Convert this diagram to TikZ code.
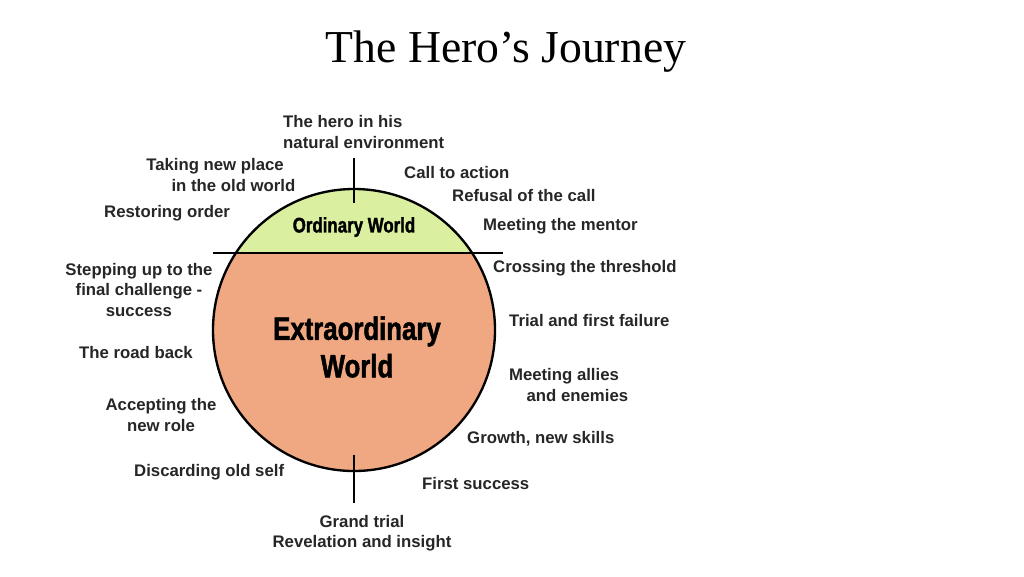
\documentclass[tikz,border=0pt]{standalone}
\usepackage{fontspec}
\setmainfont{Liberation Sans}
\newfontfamily\titlefont{Liberation Serif}
\newfontfamily\condfont[FakeStretch=0.8,FakeBold=1.5]{Liberation Sans Bold}
\definecolor{ordgreen}{RGB}{218,240,160}
\definecolor{salmon}{RGB}{240,168,130}
\begin{document}
\begin{tikzpicture}[x=0.03cm,y=-0.03cm,
  lab/.style={font=\fontsize{14.3}{17.5}\selectfont\bfseries,text=black!85,align=center,inner sep=0pt},
  labl/.style={lab,anchor=west,align=left}]
\useasboundingbox (0,0) rectangle (1024,576);
\node[font=\titlefont\fontsize{39}{44}\selectfont] (title) at (506,52) {The Hero’s Journey};
\coordinate (c) at (354,330);
\fill[salmon] (c) circle[radius=141];
\begin{scope}
\clip (0,0) rectangle (1024,253);
\fill[ordgreen] (c) circle[radius=141];
\end{scope}
\draw[line width=2pt] (c) circle[radius=141];
\coordinate (hl) at (213,253); \coordinate (hr) at (503,253);
\draw[line width=2pt] (hl) -- (hr);
\coordinate (t1) at (354,158); \coordinate (t2) at (354,203);
\draw[line width=2pt] (t1) -- (t2);
\coordinate (b1) at (354,455); \coordinate (b2) at (354,503);
\draw[line width=2pt] (b1) -- (b2);
\node[font=\condfont\fontsize{18}{20}\selectfont] (ord) at (354,227) {Ordinary World};
\node[font=\condfont\fontsize{27.5}{32}\selectfont,align=center] (ext) at (357,347) {Extraordinary\\World};
\node[labl] (n1) at (283,132) {The hero in his\\natural environment};
\node[lab] (n2) at (215,175) {Taking new place\\\hspace*{2.2em}in the old world};
\node[labl] (n3) at (404,173) {Call to action};
\node[labl] (n4) at (452,196) {Refusal of the call};
\node[labl] (n5) at (104,213) {Restoring order};
\node[labl] (n6) at (483,226) {Meeting the mentor};
\node[labl] (n7) at (493,268) {Crossing the threshold};
\node[lab] (n8) at (139,290) {Stepping up to the\\final challenge -\\success};
\node[labl] (n9) at (509,321) {Trial and first failure};
\node[labl] (n10) at (79,353) {The road back};
\node[lab] (n11) at (564,385) {Meeting allies\\\hspace*{1.6em}and enemies};
\node[lab] (n12) at (161,415) {Accepting the\\new role};
\node[labl] (n13) at (467,439) {Growth, new skills};
\node[labl] (n14) at (134,472) {Discarding old self};
\node[labl] (n15) at (422,484) {First success};
\node[lab] (n16) at (362,533) {Grand trial\\Revelation and insight};
\end{tikzpicture}
\end{document}
